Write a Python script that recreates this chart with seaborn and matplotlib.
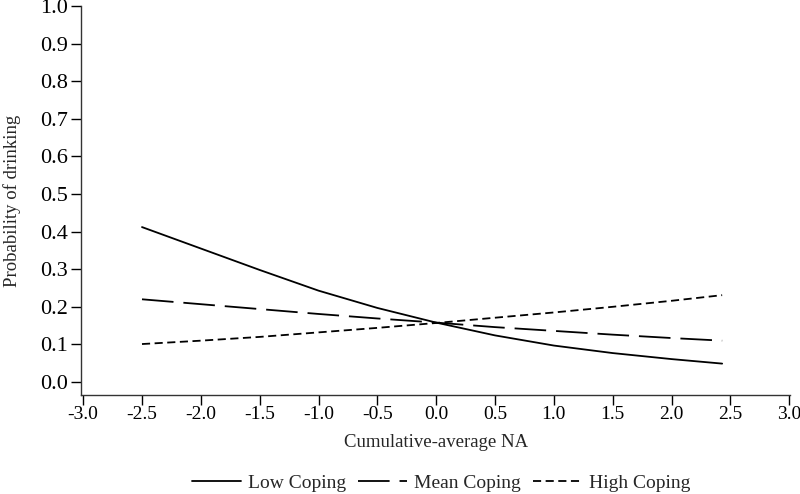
import matplotlib
matplotlib.use("Agg")
import matplotlib.pyplot as plt
import seaborn as sns
import pandas as pd

# values
na_x = [-2.5, -2.0, -1.5, -1.0, -0.5, 0.0, 0.5, 1.0, 1.5, 2.0, 2.43]
low_coping = [0.412, 0.355, 0.298, 0.243, 0.197, 0.158, 0.124, 0.097, 0.077, 0.061, 0.049]
mean_coping = [0.220, 0.207, 0.194, 0.181, 0.169, 0.158, 0.146, 0.136, 0.126, 0.117, 0.110]
high_coping = [0.101, 0.110, 0.120, 0.132, 0.144, 0.157, 0.171, 0.185, 0.200, 0.216, 0.231]

group_names = ["Low Coping", "Mean Coping", "High Coping"]
x_ticks = [-3.0, -2.5, -2.0, -1.5, -1.0, -0.5, 0.0, 0.5, 1.0, 1.5, 2.0, 2.5, 3.0]
y_ticks = [0.0, 0.1, 0.2, 0.3, 0.4, 0.5, 0.6, 0.7, 0.8, 0.9, 1.0]

rows = []
for name, vals in zip(group_names, [low_coping, mean_coping, high_coping]):
    for x, v in zip(na_x, vals):
        rows.append({"na": x, "prob": v, "group": name})
df = pd.DataFrame(rows)

sns.set_theme(style="ticks")
plt.rcParams["font.family"] = ["Liberation Serif", "DejaVu Serif"]
plt.rcParams["axes.unicode_minus"] = False

fig = plt.figure(figsize=(8, 4.94), dpi=100)
ax = fig.add_axes([0.101, 0.200, 0.887, 0.788])

dash_styles = {"Low Coping": "", "Mean Coping": (17.5, 5.5), "High Coping": (4.5, 2.5)}
sns.lineplot(data=df, x="na", y="prob", style="group", style_order=group_names,
             dashes=dash_styles, color="black", linewidth=1.3, ax=ax)

ax.set_xlim(-3.02, 3.01)
ax.set_ylim(-0.035, 1.0)
ax.set_xticks(x_ticks)
ax.set_xticklabels([f"{t:.1f}" for t in x_ticks])
ax.set_yticks(y_ticks)
ax.set_yticklabels([f"{t:.1f}" for t in y_ticks])
ax.tick_params(axis="both", direction="out", length=7, width=1, colors="black")
ax.tick_params(axis="x", pad=1, labelsize=14)
ax.tick_params(axis="y", pad=2, labelsize=16)
for side in ["top", "right"]:
    ax.spines[side].set_visible(False)
for side in ["left", "bottom"]:
    ax.spines[side].set_color("#333333")
    ax.spines[side].set_linewidth(1)

ax.set_xlabel("Cumulative-average NA", fontsize=13.5, labelpad=8)
ax.set_ylabel("Probability of drinking", fontsize=13.5, labelpad=14)

sns.move_legend(ax, "center", bbox_to_anchor=(0.508, -0.226), ncol=3,
                frameon=False, title=None, fontsize=14, handlelength=2.5,
                columnspacing=0.6, handletextpad=0.4)

fig.savefig("out.png", dpi=100)
